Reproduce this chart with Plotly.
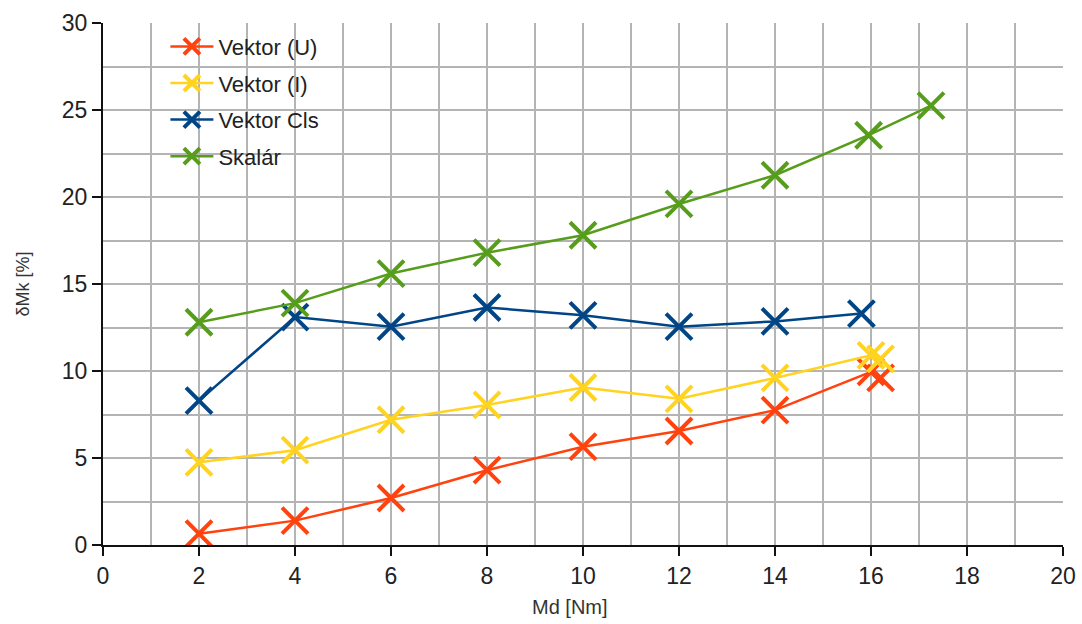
import plotly.graph_objects as go

# Torque deviation measurements (x = Md [Nm], y = δMk [%])
vektor_u_x = [2, 4, 6, 8, 10, 12, 14, 16, 16.2]
vektor_u_y = [0.65, 1.4, 2.7, 4.3, 5.65, 6.55, 7.75, 9.95, 9.6]

vektor_i_x = [2, 4, 6, 8, 10, 12, 14, 16, 16.2]
vektor_i_y = [4.75, 5.45, 7.2, 8.05, 9.05, 8.4, 9.6, 10.9, 10.7]

vektor_cls_x = [2, 4, 6, 8, 10, 12, 14, 15.8]
vektor_cls_y = [8.3, 13.1, 12.55, 13.65, 13.2, 12.55, 12.85, 13.3]

skalar_x = [2, 4, 6, 8, 10, 12, 14, 15.95, 17.25]
skalar_y = [12.8, 13.9, 15.6, 16.8, 17.8, 19.6, 21.25, 23.55, 25.25]

series = [
    ("Vektor (U)", vektor_u_x, vektor_u_y, "#ff420e"),
    ("Vektor (I)", vektor_i_x, vektor_i_y, "#ffd320"),
    ("Vektor Cls", vektor_cls_x, vektor_cls_y, "#004586"),
    ("Skalár", skalar_x, skalar_y, "#579d1c"),
]

FONT = "Liberation Sans, Arial, sans-serif"
GRID = "#b4b4b4"

fig = go.Figure()
for i, (name, xs, ys, color) in enumerate(series):
    fig.add_trace(go.Scatter(
        x=xs, y=ys, name=name, mode="lines+markers", legendgroup=f"g{i}",
        line=dict(color=color, width=2.5),
        marker=dict(symbol="x-thin", size=26, line=dict(color=color, width=4)),
    ))

# white panel behind the legend, with the 25 % grid line running through it
fig.add_shape(type="rect", xref="x", yref="y", x0=0.25, x1=5.5, y0=21.1, y1=29.6,
              fillcolor="white", line=dict(width=0), layer="below")
fig.add_shape(type="line", xref="x", yref="y", x0=0, x1=20, y0=25, y1=25,
              line=dict(color=GRID, width=2), layer="below")

# axis title below the x axis
fig.add_annotation(text="Md [Nm]", xref="paper", yref="paper",
                   x=0.486, y=-0.119, xanchor="center", yanchor="middle",
                   showarrow=False, font=dict(size=20, family=FONT, color="#333333"))

fig.update_layout(
    width=1082, height=624, autosize=False,
    margin=dict(l=103, r=19, t=23, b=79),
    paper_bgcolor="white", plot_bgcolor="white",
    font=dict(family=FONT, color="#222222"),
    showlegend=True,
    legend=dict(
        x=0.065, y=0.995, xanchor="left", yanchor="top",
        bgcolor="rgba(0,0,0,0)", borderwidth=0,
        font=dict(family=FONT, size=22, color="#222222"),
        itemwidth=43, tracegroupgap=5,
    ),
)

fig.update_xaxes(
    range=[0, 20], dtick=2, tick0=0, automargin=False,
    showgrid=True, gridcolor=GRID, gridwidth=2,
    minor=dict(dtick=1, showgrid=True, gridcolor=GRID, gridwidth=2),
    showline=True, linecolor="#111111", linewidth=2,
    ticks="outside", ticklen=9, tickwidth=2, tickcolor="#111111",
    tickfont=dict(size=23, family=FONT, color="#222222"),
    zeroline=False,
)
fig.update_yaxes(
    range=[0, 30], dtick=5, tick0=0, automargin=False,
    showgrid=True, gridcolor=GRID, gridwidth=2,
    minor=dict(dtick=2.5, showgrid=True, gridcolor=GRID, gridwidth=2),
    showline=True, linecolor="#111111", linewidth=2,
    ticks="outside", ticklen=9, tickwidth=2, tickcolor="#111111",
    tickfont=dict(size=23, family=FONT, color="#222222"),
    zeroline=False,
    title=dict(text="δMk [%]", font=dict(size=18, family=FONT, color="#333333"), standoff=28),
)

fig.write_html("out.html")
